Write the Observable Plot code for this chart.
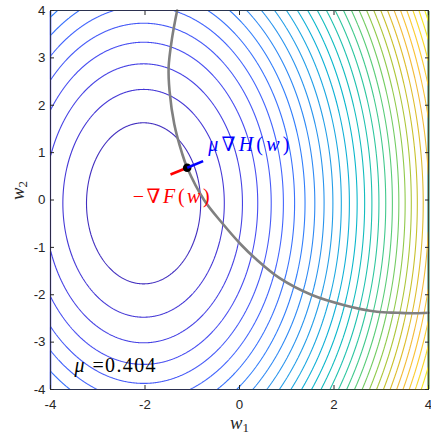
<!DOCTYPE html>
<html>
<head>
<meta charset="utf-8">
<script src="https://cdn.jsdelivr.net/npm/d3@7"></script>
<script src="https://cdn.jsdelivr.net/npm/@observablehq/plot@0.6"></script>
<style>
  body { margin: 0; background: #fff; }
</style>
</head>
<body>
<div id="chart"></div>
<script>
// Axis ticks
const w1Ticks = [-4, -2, 0, 2, 4];
const w2Ticks = [-4, -3, -2, -1, 0, 1, 2, 3, 4];

// Objective F(w): elliptic level sets around its minimiser
const fCenter = [-2.03, -0.07];
const fSemiAxes = [1.208, 1.70];          // w1 / w2 radius of the level-1 ellipse
const fLevels = [1, 2, 3, 4, 5, 6, 7, 8, 9, 10, 11, 12, 13, 14, 15,
                 16, 17, 18, 19, 20, 21, 22, 23, 24, 25, 26, 27, 28, 29, 30];

// Constraint curve H(w) = 0
const hW1 = [-1.32, -1.43, -1.50, -1.48, -1.38, -1.22, -1.107, -0.75, -0.39, 0.04, 0.33, 0.85, 1.52, 2.22, 2.91, 3.34, 3.69, 4.00];
const hW2 = [4.00, 3.40, 2.80, 2.30, 1.60, 1.00, 0.68, 0.00, -0.46, -0.95, -1.23, -1.65, -2.00, -2.22, -2.36, -2.38, -2.39, -2.38];

// Stationary point and the two gradient arrows drawn from it
const pointW = [-1.107, 0.68];
const negGradFTip = [-1.46, 0.54];
const muGradHTip = [-0.77, 0.82];
const mu = 0.404;

// Text annotations
const annX = [-0.66, -2.26, -3.49];
const annY = [1.17, 0.07, -3.49];
const annText = ["μ∇H(w)", "−∇F(w)", "μ =" + mu.toFixed(3)];
const annColor = ["#0000ff", "#ff0000", "#000000"];
const annWidth = [81, 77, 81];            // set width of each typeset string, px

// MATLAB parula colormap stops (rows 1,5,...,61,64 of the 64-row table)
const parulaStops = ["#3e26a8", "#4537d5", "#484df0", "#4563fd", "#327cfc", "#2b91ef",
                     "#20a5e3", "#08b5d0", "#19bfb6", "#37c897", "#64cd6f", "#9dc943",
                     "#d1bf27", "#f8ba3d", "#fccf30", "#f5e924", "#f9fb15"];
const parulaRows = [0, 4, 8, 12, 16, 20, 24, 28, 32, 36, 40, 44, 48, 52, 56, 60, 63];
const parula = d3.scaleLinear()
  .domain(parulaRows.map(r => r / 63))
  .range(parulaStops)
  .interpolate(d3.interpolateRgb)
  .clamp(true);

const F = (x, y) =>
  ((x - fCenter[0]) / fSemiAxes[0]) ** 2 + ((y - fCenter[1]) / fSemiAxes[1]) ** 2;
const zMax = d3.max([[-4, -4], [-4, 4], [4, -4], [4, 4]], ([x, y]) => F(x, y));

const curve = hW1.map((x, i) => ({x, y: hW2[i]}));
const vectors = [
  {x1: pointW[0], y1: pointW[1], x2: negGradFTip[0], y2: negGradFTip[1], c: "#ff0000"},
  {x1: pointW[0], y1: pointW[1], x2: muGradHTip[0], y2: muGradHTip[1], c: "#0000ff"}
];
const annotations = annText.map((t, i) => ({x: annX[i], y: annY[i], t, c: annColor[i]}));

const serif = "'Liberation Serif', 'DejaVu Serif', serif";
const axisFont = "'Liberation Sans', Arial, sans-serif";
const tickFmt = d => String(d);

const svg = Plot.plot({
  width: 431,
  height: 435,
  marginLeft: 50,
  marginRight: 3,
  marginTop: 10,
  marginBottom: 46,
  style: {background: "#fff", color: "#262626", fontFamily: axisFont},
  x: {domain: [-4, 4]},
  y: {domain: [-4, 4]},
  color: {type: "linear", domain: [0, zMax], interpolate: t => parula(t)},
  marks: [
    Plot.contour({
      value: F, x1: -4, x2: 4, y1: -4, y2: 4,
      thresholds: fLevels, pixelSize: 0.5,
      fill: "none", stroke: "value", strokeWidth: 1.1
    }),
    Plot.line(curve, {x: "x", y: "y", stroke: "#808080", strokeWidth: 2.6, curve: "catmull-rom"}),
    Plot.link(vectors.slice(0, 1), {x1: "x1", y1: "y1", x2: "x2", y2: "y2", stroke: "c", strokeWidth: 2.6}),
    Plot.dot([pointW], {x: d => d[0], y: d => d[1], r: 4.3, fill: "#000", stroke: "none"}),
    Plot.link(vectors.slice(1), {x1: "x1", y1: "y1", x2: "x2", y2: "y2", stroke: "c", strokeWidth: 2.6}),
    Plot.text(annotations, {
      x: "x", y: "y", text: "t", fill: "c", textAnchor: "start",
      lineAnchor: "middle", fontSize: 20, fontFamily: serif
    }),
    Plot.frame({stroke: "#262626", strokeWidth: 0.8}),
    Plot.axisX({ticks: w1Ticks, anchor: "bottom", tickSize: -4, tickPadding: 14, tickFormat: tickFmt, label: null, fontSize: 13.3}),
    Plot.axisX({ticks: w1Ticks, anchor: "top", tickSize: -4, tickFormat: () => "", label: null}),
    Plot.axisY({ticks: w2Ticks, anchor: "left", tickSize: -4, tickPadding: 9, tickFormat: tickFmt, label: null, fontSize: 13.3}),
    Plot.axisY({ticks: w2Ticks, anchor: "right", tickSize: -4, tickFormat: () => "", label: null}),
    Plot.text(["w1"], {frameAnchor: "bottom", dy: 34, lineAnchor: "middle", fontSize: 18.67, fontFamily: serif, fill: "#262626"}),
    Plot.text(["w2"], {frameAnchor: "left", dx: -32, rotate: -90, lineAnchor: "middle", fontSize: 18.67, fontFamily: serif, fill: "#262626"})
  ]
});

// Typeset the math strings: italic letters, upright symbols, subscripted indices
const NS = "http://www.w3.org/2000/svg";
function typeset(el, str) {
  el.textContent = "";
  const m = str.match(/^([a-z])(\d)$/);
  if (m) {
    const a = document.createElementNS(NS, "tspan");
    a.setAttribute("font-style", "italic");
    a.textContent = m[1];
    const b = document.createElementNS(NS, "tspan");
    b.setAttribute("font-size", "13px");
    b.setAttribute("dy", "0.2em");
    b.textContent = m[2];
    el.append(a, b);
    return;
  }
  for (const ch of str) {
    const s = document.createElementNS(NS, "tspan");
    if (/[A-Za-zμ]/.test(ch)) s.setAttribute("font-style", "italic");
    s.textContent = ch;
    el.append(s);
  }
  const i = annText.indexOf(str);
  if (i >= 0) {
    el.setAttribute("textLength", annWidth[i]);
    el.setAttribute("lengthAdjust", "spacing");
  }
}
const mathStrings = new Set([...annText, "w1", "w2"]);
svg.querySelectorAll("text").forEach(t => {
  const s = t.textContent;
  if (mathStrings.has(s)) typeset(t, s);
});

document.getElementById("chart").append(svg);
</script>
</body>
</html>
